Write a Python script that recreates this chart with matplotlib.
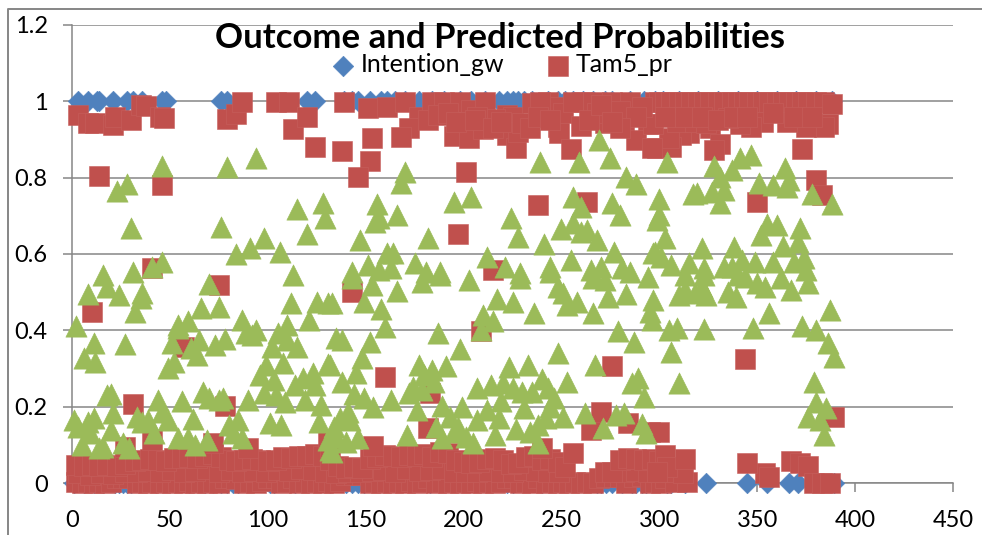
import matplotlib
matplotlib.use('Agg')
import matplotlib.pyplot as plt
from matplotlib.lines import Line2D
from matplotlib.patches import Rectangle

title = 'Outcome and Predicted Probabilities'
x_ticks = [0, 50, 100, 150, 200, 250, 300, 350, 400, 450]
y_ticks = [0, 0.2, 0.4, 0.6, 0.8, 1, 1.2]
y_labels = ['0', '0.2', '0.4', '0.6', '0.8', '1', '1.2']

# Intention_gw is only ever 0 or 1, so just the x values are needed
blue_one_x = [3, 8, 13, 14, 21, 28, 31, 36, 46, 48, 76, 79, 120, 124, 139, 143, 146, 152, 158,
              161, 165, 170, 177, 184, 190, 198, 204, 211, 218, 222, 225, 228, 231, 235, 243,
              248, 252, 256, 261, 266, 272, 276, 285, 292, 298, 302, 310, 320, 330, 340, 350,
              360, 370, 380, 388]
blue_zero_x = [1, 6, 11, 16, 22, 24, 26, 28, 30, 43, 60, 68, 72, 76, 79, 82, 85, 101, 103, 114,
               132, 140, 143, 146, 149, 183, 222, 225, 240, 268, 270, 273, 276, 281, 286, 288,
               291, 293, 304, 306, 313, 324, 345, 355, 366, 371, 389]

red_high = [(3, .965), (8, .944), (12, .944), (21, .938), (22, .960), (30, .952), (35, .991),
            (38, .988), (45, .960), (47, .957), (14, .805), (46, .781), (79, .954), (84, .967),
            (87, .999), (104, .999), (111, .999), (113, .928), (120, .960), (124, .881),
            (139, .999), (138, .870), (151, .983), (161, .986), (170, .999), (177, .960),
            (172, .931), (168, .907), (153, .904), (152, .844), (146, .802), (184, .999),
            (190, .999), (198, .999), (204, .978), (211, .999), (199, .946), (195, .910),
            (203, .904), (212, .946), (210, .928), (201, .815), (222, .965), (225, .960),
            (222, .912), (227, .878), (228, .920), (230, .944), (235, .996), (243, .999),
            (248, .986), (248, .933), (249, .917), (255, .875), (251, .970), (260, .936),
            (261, .999), (266, .999), (272, .944), (276, .999), (285, .999), (282, .946),
            (294, .941), (288, .899), (299, .878), (298, .999), (256, .999), (238, .729),
            (263, .737), (300, .999), (303, .999), (306, .999), (310, .999), (313, .999),
            (316, .999), (320, .999), (323, .999), (326, .999), (330, .999), (333, .999),
            (337, .999), (340, .999), (343, .999), (346, .999), (350, .999), (353, .999),
            (356, .999), (360, .999), (363, .999), (366, .999), (370, .999), (373, .999),
            (376, .999), (380, .999), (384, .999), (388, .993), (386, .941), (384, .933),
            (375, .933), (365, .946), (353, .946), (347, .933), (341, .941), (326, .931),
            (331, .889), (328, .873), (315, .917), (311, .912), (306, .881), (305, .904),
            (296, .878), (309, .946), (318, .946), (324, .944), (335, .957), (373, .875),
            (380, .794), (383, .755), (350, .737), (297, .941), (239, .999), (268, .970),
            (280, .975), (291, .985), (216, .955), (207, .960), (182, .950), (187, .965),
            (192, .970), (196, .945), (206, .950), (215, .930), (219, .945), (234, .930),
            (238, .960), (244, .950), (264, .950), (270, .990), (288, .960), (303, .960),
            (313, .960), (322, .960), (330, .950), (338, .960), (345, .960), (358, .970),
            (369, .960), (378, .960), (280, .930), (276, .945)]
red_mid = [(41, .564), (10, .448), (75, .519), (31, .207), (57, .357), (78, .202), (197, .652),
           (215, .558), (143, .501), (160, .278), (209, .398), (183, .236), (276, .307),
           (344, .325), (389, .173), (265, .139), (270, .186), (284, .157), (295, .134),
           (300, .134), (27, .094), (41, .113), (72, .105), (90, .092), (131, .113),
           (154, .097), (182, .144), (240, .092), (256, .079)]
red_top_band = [(2, .047), (6, .045), (10, .047), (14, .044), (18, .047), (23, .045), (27, .050),
                (32, .058), (36, .060), (40, .062), (44, .060), (48, .058), (52, .066), (56, .066),
                (60, .068), (64, .066), (68, .070), (72, .075), (76, .068), (80, .060), (84, .058),
                (88, .060), (92, .062), (96, .060), (100, .058), (104, .060), (108, .068),
                (112, .066), (116, .070), (120, .070), (124, .076), (128, .072), (132, .060),
                (136, .045), (140, .040), (144, .042), (148, .040), (152, .062), (156, .068),
                (160, .073), (164, .070), (168, .068), (172, .073), (176, .070), (180, .075),
                (184, .068), (188, .081), (192, .078), (196, .060), (200, .055), (204, .052),
                (208, .055), (212, .062), (216, .066), (220, .060), (224, .050), (228, .052),
                (232, .068), (236, .070), (240, .060), (244, .062), (248, .056), (252, .042),
                (272, .030), (276, .028), (280, .060), (284, .066), (288, .062), (292, .060),
                (296, .062), (300, .058), (303, .073), (304, .042), (313, .063), (299, .029)]
red_mid_band = [(3, .025), (9, .022), (15, .026), (21, .024), (27, .028), (33, .030), (39, .032),
                (45, .028), (51, .034), (57, .030), (63, .032), (69, .036), (75, .030), (81, .034),
                (87, .030), (93, .032), (99, .030), (105, .034), (111, .032), (117, .036),
                (123, .034), (129, .030), (135, .026), (141, .030), (147, .028), (153, .032),
                (159, .034), (165, .030), (171, .036), (177, .032), (183, .034), (189, .036),
                (195, .030), (201, .028), (207, .030), (213, .032), (219, .030), (225, .028),
                (231, .034), (237, .032), (243, .030), (249, .028), (282, .030), (288, .032),
                (294, .030), (300, .028), (306, .030), (312, .026)]
red_bottom = [(2, .003), (5, .0), (8, .002), (11, .0), (14, .003), (17, .0), (20, .002),
              (23, .012), (26, .013), (29, .012), (33, .0), (36, .002), (39, .0), (41, .003),
              (45, .0), (48, .002), (51, .0), (54, .003), (57, .0), (60, .004), (63, .0),
              (66, .002), (69, .0), (72, .003), (75, .0), (78, .012), (81, .012), (84, .010),
              (88, .0), (91, .002), (94, .0), (97, .004), (100, .012), (104, .012), (107, .0),
              (110, .002), (113, .012), (116, .0), (119, .003), (122, .0), (125, .002), (128, .0),
              (131, .004), (134, .0), (137, .004), (140, .020), (144, .020), (148, .020), (152, .0),
              (155, .002), (158, .0), (161, .003), (164, .0), (167, .002), (170, .0), (173, .004),
              (176, .0), (179, .003), (182, .012), (186, .0), (189, .002), (192, .0), (195, .003),
              (198, .0), (201, .002), (204, .0), (207, .004), (210, .0), (213, .002), (216, .0),
              (219, .003), (222, .012), (226, .012), (229, .0), (232, .003), (235, .0), (238, .012),
              (242, .0), (245, .002), (248, .0), (251, .003), (254, .0), (257, .002), (260, .0),
              (263, .003), (266, .0), (269, .014), (273, .016), (277, .015), (280, .016), (283, .0),
              (287, .015), (291, .018), (295, .0), (298, .002), (301, .0), (303, .012), (308, .003),
              (314, .003), (354, .026), (356, .016), (345, .052), (367, .058), (372, .052),
              (376, .045), (379, .0), (383, .0), (387, .0)]

green_left = [(46, .831), (23, .765), (28, .783), (30, .668), (79, .829), (94, .851), (76, .671),
              (115, .718), (128, .734), (129, .695), (120, .652), (98, .642), (91, .616), (84, .600),
              (106, .606), (46, .579), (41, .566), (31, .553), (16, .545), (113, .545), (18, .514),
              (8, .495), (24, .493), (36, .498), (35, .485), (32, .448), (2, .412), (11, .367),
              (27, .364), (6, .328), (12, .317), (70, .522), (66, .459), (75, .461), (112, .472),
              (125, .474), (131, .472), (121, .427), (87, .427), (110, .414), (59, .425), (54, .414),
              (54, .406), (94, .401), (89, .393), (92, .388), (105, .393), (110, .375), (115, .357),
              (102, .357), (51, .367), (65, .375), (78, .377), (73, .362), (61, .354), (64, .336),
              (52, .317), (49, .301), (108, .315), (131, .312), (99, .309), (96, .283), (103, .270),
              (123, .288), (118, .275), (114, .257), (124, .257), (98, .236), (104, .231),
              (109, .212), (119, .218), (127, .204), (90, .218), (56, .215), (44, .218), (20, .233),
              (18, .231), (21, .183), (11, .170), (1, .165), (8, .160), (3, .147), (33, .173),
              (39, .165), (36, .160), (46, .186), (49, .165), (42, .131), (62, .168), (67, .239),
              (70, .223), (75, .218), (77, .223), (85, .165), (80, .152), (82, .131), (87, .118),
              (107, .152), (101, .157), (126, .160), (20, .139), (9, .131), (5, .100), (14, .092),
              (16, .094), (26, .105), (29, .092), (54, .118), (59, .118), (63, .100), (69, .113),
              (131, .113), (132, .087)]
green_mid = [(269, .899), (239, .841), (259, .841), (275, .851), (283, .802), (288, .783),
             (170, .815), (168, .786), (204, .750), (195, .737), (156, .731), (157, .695),
             (155, .684), (166, .702), (256, .750), (260, .723), (276, .734), (280, .702),
             (224, .695), (228, .645), (241, .626), (250, .666), (256, .682), (263, .663),
             (260, .658), (268, .637), (299, .689), (147, .637), (182, .642), (277, .606),
             (298, .606), (164, .603), (161, .603), (212, .592), (175, .577), (255, .585),
             (151, .571), (157, .558), (163, .564), (143, .553), (221, .566), (181, .553),
             (188, .553), (229, .550), (244, .566), (265, .558), (270, .566), (281, .564),
             (285, .553), (297, .603), (143, .537), (153, .519), (166, .503), (149, .474),
             (158, .456), (160, .409), (133, .472), (152, .370), (135, .380), (138, .375),
             (148, .328), (132, .309), (145, .288), (138, .265), (144, .233), (149, .223),
             (154, .199), (163, .218), (141, .186), (137, .170), (142, .165), (134, .147),
             (146, .118), (140, .107), (135, .121), (133, .081), (171, .126), (187, .393),
             (198, .351), (203, .532), (179, .527), (188, .545), (229, .537), (217, .482),
             (225, .474), (236, .446), (210, .440), (215, .425), (209, .401), (248, .341),
             (267, .309), (279, .398), (287, .370), (266, .446), (258, .474), (253, .467),
             (251, .498), (248, .514), (274, .488), (283, .495), (294, .540), (272, .532),
             (266, .537), (244, .553), (296, .427), (297, .480), (295, .448), (177, .309),
             (191, .307), (184, .296), (180, .283), (185, .265), (174, .252), (179, .244),
             (172, .236), (176, .191), (189, .202), (199, .199), (193, .173), (186, .147),
             (189, .118), (197, .147), (195, .134), (201, .121), (205, .105), (207, .165),
             (212, .191), (218, .170), (216, .126), (207, .249), (214, .257), (223, .304),
             (220, .262), (233, .309), (219, .215), (225, .249), (230, .239), (235, .239),
             (240, .273), (243, .249), (246, .223), (253, .265), (231, .197), (244, .199),
             (242, .170), (251, .173), (227, .142), (234, .134), (238, .152), (238, .105),
             (262, .183), (271, .144), (278, .178), (282, .183), (291, .155), (293, .131),
             (286, .262), (289, .275), (292, .225)]
green_right = [(304, .841), (328, .831), (341, .851), (347, .860), (337, .820), (364, .826),
               (366, .794), (351, .786), (358, .781), (365, .776), (331, .802), (333, .768),
               (327, .763), (317, .758), (319, .760), (331, .734), (378, .758), (388, .731),
               (300, .744), (300, .702), (303, .642), (322, .616), (338, .619), (355, .679),
               (360, .676), (352, .650), (372, .668), (371, .632), (363, .621), (301, .592),
               (306, .571), (315, .577), (323, .564), (333, .566), (342, .585), (349, .579),
               (358, .579), (369, .579), (374, .590), (337, .566), (348, .406), (356, .446),
               (373, .412), (380, .401), (387, .453), (386, .367), (389, .330), (379, .265),
               (380, .212), (385, .197), (376, .173), (382, .165), (384, .126), (310, .262),
               (306, .343), (305, .401), (309, .406), (323, .404), (313, .506), (310, .493),
               (318, .498), (324, .493), (322, .514), (335, .501), (339, .488), (354, .514),
               (350, .524), (367, .506), (376, .524), (362, .537), (375, .558), (340, .545),
               (344, .540), (323, .545), (313, .545)]

GRID = '#868686'
BLUE = '#4F81BD'
RED = '#C0504D'
GREEN = '#9BBB59'

plt.rcParams['font.family'] = ['Lato', 'DejaVu Sans']

fig = plt.figure(figsize=(9.82, 5.35), dpi=100)
ax = fig.add_axes([72 / 982, (535 - 483) / 535, (953 - 72) / 982, (483 - 25) / 535])
ax.set_xlim(0, 450)
ax.set_ylim(0, 1.2)

# markers run past the axis at the bottom and are cut off about 10 px below it
clip = Rectangle((0, (535 - 493) / 535), 1, 1, transform=fig.transFigure)


def draw(points, marker, size, color, edge, label=None):
    xs = [p[0] for p in points]
    ys = [p[1] for p in points]
    s = ax.scatter(xs, ys, marker=marker, s=size, color=color, edgecolors=edge,
                   linewidths=0.4, label=label, zorder=3)
    s.set_clip_path(clip)
    return s


blue_pts = [(x, 1) for x in blue_one_x] + [(x, 0) for x in blue_zero_x]
red_pts = red_bottom + red_mid_band + red_top_band + red_mid + red_high
green_pts = green_left + green_mid + green_right

h1 = draw(blue_pts, 'D', 110, BLUE, BLUE)
h2 = draw(red_pts, 's', 205, RED, '#C65F5C')
draw(green_pts, '^', 235, GREEN, GREEN)

ax.set_xticks(x_ticks)
ax.set_yticks(y_ticks)
ax.set_yticklabels(y_labels)
ax.grid(axis='y', color=GRID, linewidth=1.1, zorder=1)
ax.set_axisbelow(True)
ax.tick_params(axis='both', length=6.5, width=1.1, color=GRID, labelsize=17, labelcolor='black')
ax.tick_params(axis='x', pad=13)
ax.tick_params(axis='y', pad=11)
for side in ['top', 'right']:
    ax.spines[side].set_visible(False)
for side in ['left', 'bottom']:
    ax.spines[side].set_color(GRID)
    ax.spines[side].set_linewidth(1.1)

fig.text(500 / 982, 1 - 38 / 535, title, fontsize=25, fontweight='bold', ha='center', va='center')
leg = ax.legend([h1, h2], ['Intention_gw', 'Tam5_pr'], ncol=2, frameon=False, fontsize=18,
                loc='center', bbox_to_anchor=((502 - 72) / 881, (483 - 65) / 458),
                scatterpoints=1, handlelength=0.9, handletextpad=0.25, columnspacing=1.7,
                borderpad=0)

# chart frame, only its top and left edges are inside the picture
fig.add_artist(Line2D([8 / 982, 8 / 982, 1], [0, 1 - 9 / 535, 1 - 9 / 535],
                      transform=fig.transFigure, color=GRID, linewidth=1.4))

fig.savefig('out.png', dpi=100)
